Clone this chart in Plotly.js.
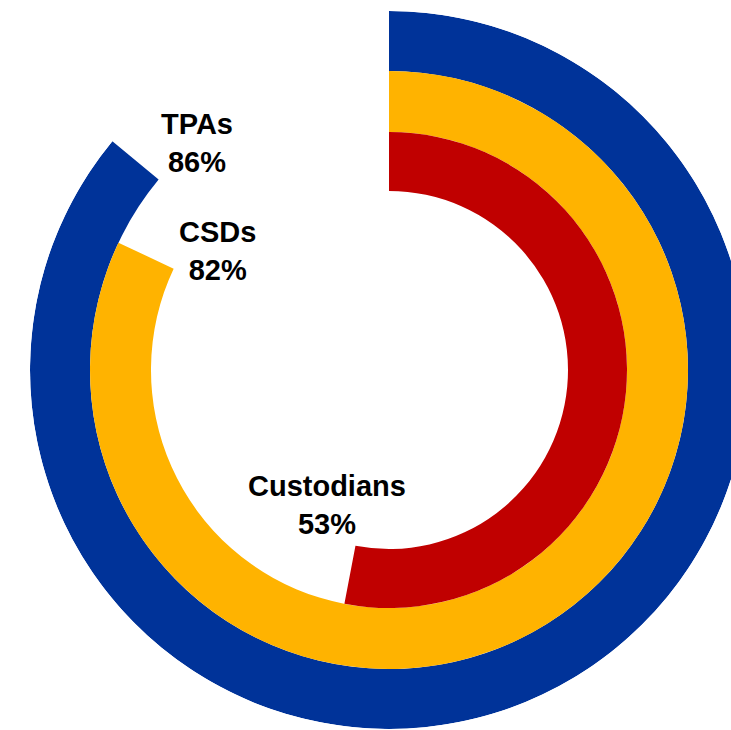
<!DOCTYPE html>
<html>
<head>
<meta charset="utf-8">
<script src="https://cdn.plot.ly/plotly-3.0.1.min.js"></script>
<style>
html,body{margin:0;padding:0;overflow:hidden;background:#fff;width:731px;height:730px;}
#chart{width:760px;height:730px;}
</style>
</head>
<body>
<div id="chart"></div>
<script>
// Data (outer ring first)
const categories = ["TPAs", "CSDs", "Custodians"];
const percentValues = [86, 82, 53];
const ringColors = ["#003399", "#FFB300", "#C00000"];

// Ring geometry (radial axis units)
const ringOuter = [359, 299, 238];
const ringInner = [299, 238, 179];

const traces = categories.map((c, i) => ({
  type: "barpolar",
  name: c,
  r: [ringOuter[i] - ringInner[i]],
  base: [ringInner[i]],
  theta: [percentValues[i] * 3.6 / 2],
  width: [percentValues[i] * 3.6],
  marker: {color: ringColors[i], line: {width: 0}},
  hoverinfo: "skip"
}));

const W = 760, H = 730, ml = 30, mr = 12, mt = 11, mb = 1;
const labelPos = [[197, 143], [217, 251], [327, 505]];
const annotations = categories.map((c, i) => ({
  xref: "paper", yref: "paper",
  x: (labelPos[i][0] - ml) / (W - ml - mr),
  y: 1 - (labelPos[i][1] - mt) / (H - mt - mb),
  xanchor: "center", yanchor: "middle",
  text: "<b>" + c + "<br>" + percentValues[i] + "%</b>",
  showarrow: false,
  font: {family: "Liberation Sans, Arial, sans-serif", size: 29, color: "#000"}
}));

const layout = {
  width: W, height: H,
  margin: {l: ml, r: mr, t: mt, b: mb, pad: 0},
  paper_bgcolor: "#fff",
  showlegend: false,
  polar: {
    domain: {x: [0, 1], y: [0, 1]},
    bgcolor: "rgba(0,0,0,0)",
    hole: 0,
    radialaxis: {range: [0, 359], visible: false, showgrid: false, showline: false, showticklabels: false, ticks: ""},
    angularaxis: {rotation: 90, direction: "clockwise", visible: false, showgrid: false, showline: false, showticklabels: false, ticks: ""}
  },
  bargap: 0,
  annotations: annotations
};

Plotly.newPlot("chart", traces, layout, {displayModeBar: false, staticPlot: true});
</script>
</body>
</html>
